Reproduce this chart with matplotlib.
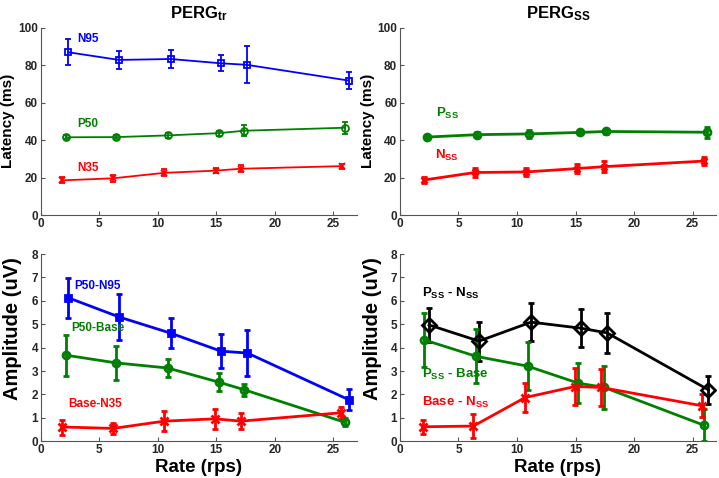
import numpy as np
import matplotlib as mpl
mpl.use('Agg')
import matplotlib.pyplot as plt

mpl.rcParams.update({'font.family': ['Liberation Sans', 'DejaVu Sans'],
                     'font.weight': 'bold',
                     'mathtext.fontset': 'custom',
                     'mathtext.rm': 'Liberation Sans:bold',
                     'mathtext.bf': 'Liberation Sans:bold',
                     'mathtext.it': 'Liberation Sans:bold'})

BLUE = '#0000ff'
GREEN = '#008000'
RED = '#ff0000'

# ---- PERG_tr latency ----
n95_x = [2.36, 6.7, 11.1, 15.4, 17.6, 26.3]
n95_y = [86.9, 82.8, 83.3, 81.0, 80.2, 71.8]
n95_e = [7.0, 5.0, 5.0, 4.2, 9.8, 4.3]
p50_x = [2.13, 6.43, 10.85, 15.2, 17.4, 26.0]
p50_y = [41.5, 41.6, 42.5, 43.7, 45.0, 46.6]
p50_e = [1.0, 1.0, 1.2, 1.3, 2.9, 3.3]
n35_x = [1.85, 6.2, 10.55, 14.96, 17.1, 25.75]
n35_y = [18.5, 19.6, 22.5, 23.7, 24.7, 26.1]
n35_e = [1.6, 1.8, 1.8, 1.5, 1.8, 1.4]

# ---- PERG_ss latency ----
pss_x = [2.28, 6.6, 11.0, 15.4, 17.6, 26.2]
pss_y = [41.6, 42.9, 43.3, 44.1, 44.6, 44.2]
pss_e = [1.2, 1.5, 2.0, 1.0, 1.2, 3.0]
nss_x = [2.08, 6.4, 10.8, 15.1, 17.4, 25.96]
nss_y = [18.7, 22.7, 23.0, 24.8, 25.8, 28.8]
nss_e = [1.5, 2.5, 2.0, 2.5, 3.0, 2.0]

# ---- PERG_tr amplitude ----
p50n95_x = [2.36, 6.7, 11.1, 15.4, 17.66, 26.3]
p50n95_y = [6.13, 5.31, 4.62, 3.85, 3.77, 1.78]
p50n95_e = [0.85, 0.98, 0.64, 0.73, 1.0, 0.44]
p50base_x = [2.13, 6.43, 10.85, 15.2, 17.4, 26.0]
p50base_y = [3.68, 3.35, 3.13, 2.53, 2.2, 0.81]
p50base_e = [0.87, 0.73, 0.38, 0.4, 0.25, 0.17]
basen35_x = [1.85, 6.2, 10.55, 14.9, 17.1, 25.7]
basen35_y = [0.61, 0.55, 0.86, 0.96, 0.86, 1.22]
basen35_e = [0.32, 0.23, 0.43, 0.43, 0.34, 0.26]

# ---- PERG_ss amplitude ----
pssnss_x = [2.48, 6.75, 11.2, 15.47, 17.7, 26.35]
pssnss_y = [4.97, 4.28, 5.09, 4.83, 4.63, 2.2]
pssnss_e = [0.73, 0.83, 0.81, 0.81, 0.86, 0.6]
pssbase_x = [2.08, 6.5, 10.9, 15.25, 17.4, 26.0]
pssbase_y = [4.33, 3.63, 3.21, 2.48, 2.31, 0.68]
pssbase_e = [1.17, 1.15, 1.02, 0.86, 0.91, 0.68]
basenss_x = [1.94, 6.27, 10.7, 14.96, 17.2, 25.78]
basenss_y = [0.62, 0.65, 1.87, 2.34, 2.3, 1.52]
basenss_e = [0.31, 0.52, 0.6, 0.77, 0.8, 0.5]


def style_axes(ax, ymax, ystep):
    ax.set_xlim(0, 27)
    ax.set_ylim(0, ymax)
    ax.set_xticks(np.arange(0, 26, 5))
    ax.set_yticks(np.arange(0, ymax + 1, ystep))
    for s in ['top', 'right']:
        ax.spines[s].set_visible(False)
    for s in ['left', 'bottom']:
        ax.spines[s].set_color('#555555')
    ax.tick_params(direction='in', length=3, labelsize=8.5, colors='#555555',
                   labelcolor='#262626', pad=2)
    for lbl in ax.get_xticklabels() + ax.get_yticklabels():
        lbl.set_fontweight('bold')


def series(ax, x, y, e, color, marker, ms, lw, filled=False):
    ax.errorbar(x, y, yerr=e, color=color, marker=marker, ms=ms, lw=lw,
                elinewidth=lw, capsize=2.5, capthick=lw,
                mfc=color if filled else 'none', mec=color, mew=lw)


fig = plt.figure(figsize=(7.19, 4.78), dpi=100)
w, h = 0.4395, 0.3918
ax1 = fig.add_axes([0.0566, 0.5502, w, h])
ax2 = fig.add_axes([0.5563, 0.5502, w, h])
ax3 = fig.add_axes([0.0566, 0.0768, w, h])
ax4 = fig.add_axes([0.5563, 0.0768, w, h])

# top left
series(ax1, n95_x, n95_y, n95_e, BLUE, 's', 5, 1.3)
series(ax1, p50_x, p50_y, p50_e, GREEN, 'o', 5, 1.3)
series(ax1, n35_x, n35_y, n35_e, RED, 'x', 5, 1.3)
ax1.text(3.1, 94, 'N95', color=BLUE, fontsize=8.5, fontweight='bold', va='center')
ax1.text(3.1, 48.5, 'P50', color=GREEN, fontsize=8.5, fontweight='bold', va='center')
ax1.text(3.1, 25.3, 'N35', color=RED, fontsize=8.5, fontweight='bold', va='center')
ax1.set_title(r'$\mathbf{PERG_{tr}}$', fontsize=12, pad=7)
ax1.set_ylabel('Latency (ms)', fontsize=11, fontweight='bold', labelpad=2)
style_axes(ax1, 100, 20)

# top right
series(ax2, pss_x, pss_y, pss_e, GREEN, 'o', 5, 2)
series(ax2, nss_x, nss_y, nss_e, RED, 'x', 5, 2)
ax2.text(3.1, 54, r'$\mathbf{P_{SS}}$', color=GREEN, fontsize=9.5, va='center')
ax2.text(3.0, 32, r'$\mathbf{N_{SS}}$', color=RED, fontsize=9.5, va='center')
ax2.set_title(r'$\mathbf{PERG_{SS}}$', fontsize=12, pad=7)
ax2.set_ylabel('Latency (ms)', fontsize=11, fontweight='bold', labelpad=2)
style_axes(ax2, 100, 20)

# bottom left
series(ax3, p50n95_x, p50n95_y, p50n95_e, BLUE, 's', 5, 2, filled=True)
series(ax3, p50base_x, p50base_y, p50base_e, GREEN, 'o', 5, 2)
series(ax3, basen35_x, basen35_y, basen35_e, RED, 'x', 6, 2)
ax3.text(2.85, 6.64, 'P50-N95', color=BLUE, fontsize=8.5, fontweight='bold', va='center')
ax3.text(2.65, 4.85, 'P50-Base', color=GREEN, fontsize=8.5, fontweight='bold', va='center')
ax3.text(2.36, 1.58, 'Base-N35', color=RED, fontsize=8.5, fontweight='bold', va='center')
ax3.set_ylabel('Amplitude (uV)', fontsize=14.5, fontweight='bold')
ax3.yaxis.set_label_coords(-0.058, 0.6)
ax3.set_xlabel('Rate (rps)', fontsize=13.5, fontweight='bold', labelpad=2)
style_axes(ax3, 8, 1)

# bottom right
series(ax4, pssnss_x, pssnss_y, pssnss_e, 'black', 'D', 7, 2)
series(ax4, pssbase_x, pssbase_y, pssbase_e, GREEN, 'o', 5, 2)
series(ax4, basenss_x, basenss_y, basenss_e, RED, 'x', 6, 2)
ax4.text(1.85, 6.3, r'$\mathbf{P_{SS}}$ - $\mathbf{N_{SS}}$', color='black', fontsize=9.5, va='center')
ax4.text(1.85, 2.85, r'$\mathbf{P_{SS}}$ - Base', color=GREEN, fontsize=9.5, fontweight='bold', va='center')
ax4.text(1.85, 1.65, r'Base - $\mathbf{N_{SS}}$', color=RED, fontsize=9.5, fontweight='bold', va='center')
ax4.set_ylabel('Amplitude (uV)', fontsize=14.5, fontweight='bold')
ax4.yaxis.set_label_coords(-0.058, 0.6)
ax4.set_xlabel('Rate (rps)', fontsize=13.5, fontweight='bold', labelpad=2)
style_axes(ax4, 8, 1)

plt.savefig('out.png', dpi=100)
plt.close(fig)
